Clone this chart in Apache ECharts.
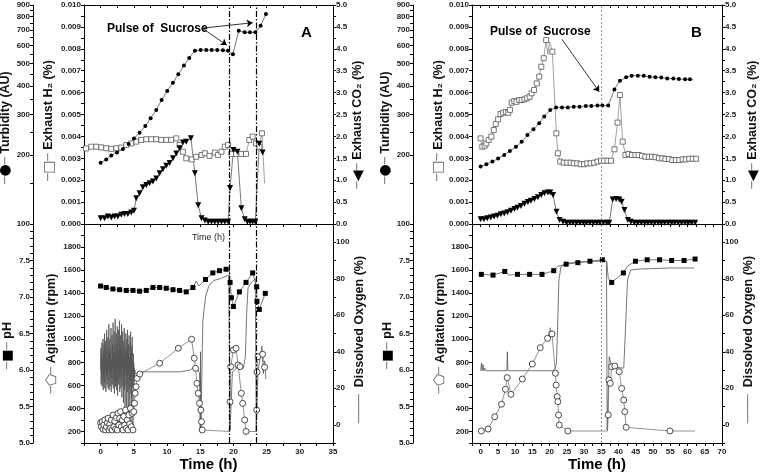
<!DOCTYPE html>
<html><head><meta charset="utf-8">
<script src="https://cdn.jsdelivr.net/npm/echarts@6/dist/echarts.min.js"></script>
<style>html,body{margin:0;padding:0;background:#fff}#c{width:760px;height:474px}</style>
</head><body><div id="c"></div>
<script>
// ---------------- DATA ----------------
// Panel A (time h, value) ; optional third element 0 = line vertex without marker
const turbA = [[0,185],[0.85,191],[1.61,199],[2.46,205],[3.36,212],[4.22,223],[5.02,236],[5.87,250],[6.73,267],[7.53,289],[8.38,314],[9.19,347],[10.04,380],[10.89,413],[11.7,449],[12.55,490],[13.35,529],[14.21,569],[15.06,573],[15.91,573],[16.72,573],[17.57,573],[18.42,571],[19.18,569],[19.93,549],[20.8,695],[21.7,684],[22.5,684],[23.3,684],[24.1,731],[24.9,822]];
const h2A = [[-2.2,0.00345],[-1.4,0.00353],[-0.65,0.00353],[0.1,0.0035],[0.85,0.00346],[1.61,0.00343],[2.36,0.00346],[3.11,0.00349],[3.87,0.00361],[4.62,0.00368],[5.37,0.00376],[6.12,0.00384],[6.88,0.00387],[7.63,0.00387],[8.38,0.00387],[9.14,0.00384],[9.89,0.00384],[10.64,0.00384],[11.4,0.00391],[11.9,0.00361],[12.4,0.0033],[12.9,0.003],[13.7,0.00295],[14.4,0.00307],[15.2,0.00315],[15.7,0.00323],[16.4,0.00311],[17.2,0.00326],[17.7,0.00315],[18.2,0.0033],[18.7,0.00353],[19.2,0.00361],[19.7,0.0032],[20.4,0.0032],[21.2,0.0032],[21.9,0.0032],[22.4,0.00384],[22.9,0.00399],[23.4,0.00368],[23.9,0.00353],[24.3,0.00414],[24.7,0.00186,0]];
const co2A = [[0,0.13],[0.6,0.13],[1.1,0.17],[1.61,0.15],[2.1,0.17],[2.6,0.17],[3.11,0.21],[3.6,0.23],[4.1,0.23],[4.62,0.26],[5.02,0.3],[5.37,0.59],[5.87,0.7],[6.37,0.84],[6.88,0.89],[7.38,0.93],[7.88,0.97],[8.38,1.04],[8.89,1.16],[9.39,1.25],[9.89,1.33],[10.4,1.39],[10.9,1.5],[11.4,1.61],[11.9,1.73],[12.4,1.86],[12.9,1.88],[13.6,1.96],[14.2,1.16],[14.7,0.43],[15.2,0.13],[15.7,0.08],[16.2,0.05],[16.7,0.05],[17.2,0.05],[17.7,0.05],[18.2,0.05],[18.7,0.05],[19.2,0.05],[19.5,0.82],[20.0,1.69],[20.6,1.65],[21.2,0.36],[21.7,0.11],[22.1,0.05],[22.5,0.05],[22.9,0.05],[23.3,0.05],[23.9,1.83],[24.4,1.63]];
const phA = [[0,7.15],[0.85,7.13],[1.86,7.11],[2.86,7.1],[3.87,7.09],[4.87,7.09],[5.87,7.08],[6.88,7.09],[7.88,7.13],[8.89,7.13],[9.89,7.12],[10.9,7.1],[11.9,7.09],[12.9,7.07],[13.9,7.13],[14.4,7.22,0],[14.8,7.15,0],[15.8,7.24],[16.9,7.33],[17.9,7.36],[18.9,7.38],[19.4,7.38,0],[19.5,7.2],[19.7,6.99],[20.0,6.87],[20.9,7.07],[21.9,7.2],[22.9,7.33],[23.5,7.14],[23.55,6.94],[23.9,6.83],[24.8,7.05]];
const agitA = [[0,276],[0.125,241],[0.25,285],[0.375,219],[0.5,256],[0.625,300],[0.75,213],[0.875,241],[1,276],[1.125,314],[1.25,213],[1.375,265],[1.5,230],[1.625,300],[1.75,213],[1.875,343],[2,241],[2.125,290],[2.25,222],[2.375,320],[2.5,213],[2.625,358],[2.75,256],[2.875,314],[3,372],[3.125,241],[3.25,300],[3.375,213],[3.5,330],[3.625,256],[3.75,386],[3.875,228],[4,300],[4.125,213],[4.25,343],[4.375,265],[4.5,400],[4.625,241],[4.75,358],[4.875,213],[5,372],[5.1,444],[5.2,531],[5.35,588],[5.5,661],[5.9,699],[8.9,792],[11.7,922],[13.7,1000],[14.0,990,0],[14.1,835],[14.3,748],[14.5,618],[14.7,531],[14.9,444],[15.1,386],[15.2,285],[15.3,213],[19.4,200,0],[19.5,458],[19.6,762],[20.0,907],[20.4,922],[20.7,777],[21.0,762],[21.2,531],[21.4,444],[21.7,300],[21.9,200],[23.4,200,0],[23.5,386],[23.55,715],[23.7,849],[24.4,870],[24.7,757]];
const doA = [[0,30],[0.04,42],[0.08,22],[0.12,39],[0.16,25],[0.2,45],[0.24,21],[0.28,36],[0.32,28],[0.36,47],[0.4,19],[0.44,40],[0.48,26],[0.52,44],[0.56,23],[0.6,50],[0.64,20],[0.68,38],[0.72,29],[0.76,46],[0.8,18],[0.84,41],[0.88,27],[0.92,52],[0.96,22],[1,37],[1.04,25],[1.08,48],[1.12,20],[1.16,43],[1.2,30],[1.24,55],[1.28,19],[1.32,39],[1.36,24],[1.4,47],[1.44,21],[1.48,42],[1.52,28],[1.56,53],[1.6,18],[1.64,36],[1.68,26],[1.72,49],[1.76,22],[1.8,44],[1.84,31],[1.88,56],[1.92,20],[1.96,40],[2,25],[2.04,51],[2.08,17],[2.12,43],[2.16,29],[2.2,58],[2.24,21],[2.28,38],[2.32,27],[2.36,50],[2.4,19],[2.44,45],[2.48,24],[2.52,54],[2.56,16],[2.6,41],[2.64,30],[2.68,52],[2.72,22],[2.76,39],[2.8,26],[2.84,57],[2.88,18],[2.92,44],[2.96,28],[3,49],[3.04,20],[3.08,42],[3.12,25],[3.16,55],[3.2,15],[3.24,40],[3.28,31],[3.32,51],[3.36,21],[3.4,37],[3.44,12],[3.48,46],[3.52,27],[3.56,53],[3.6,19],[3.64,43],[3.68,8],[3.72,38],[3.76,29],[3.8,50],[3.84,22],[3.88,41],[3.92,10],[3.96,47],[4,26],[4.04,52],[4.08,18],[4.12,39],[4.16,6],[4.2,44],[4.24,28],[4.28,49],[4.32,20],[4.36,37],[4.4,9],[4.44,45],[4.48,24],[4.52,51],[4.56,17],[4.6,40],[4.64,5],[4.68,43],[4.72,27],[4.76,48],[4.8,21],[4.84,36],[4.88,7],[4.92,39],[4.96,25],[5,34],[5.04,20],[5.08,31],[5.12,26],[5.16,30],[5.2,28],[5.4,28],[6,29],[8,29],[10,29],[12,29],[13.5,30],[14.2,32],[14.6,31],[14.9,28],[15.0,-3],[15.05,40],[15.1,-3],[15.2,-3],[15.4,57],[15.8,70],[16.3,76],[17,79],[18,80],[19.3,82],[19.45,82],[19.5,-3],[19.7,-3],[19.85,29],[20.5,31],[21.5,31],[21.8,37],[22.0,61],[22.2,75],[22.7,78],[23.3,80],[23.4,80],[23.45,-3],[23.6,-3],[23.7,29],[24.0,30],[24.3,43],[24.5,28],[24.7,35],[24.9,25]];

// Panel B
const turbB = [[0,178],[1.66,182],[3.42,187],[5.08,193],[6.84,200],[8.49,208],[10.25,217],[11.9,228],[13.57,244],[15.33,259],[16.99,275],[18.45,294],[20.2,314],[21.9,322],[23.6,322],[25.3,322],[27,324],[28.7,324],[30.5,327],[32.1,327],[33.9,328],[35.3,328],[37,328],[38.8,386],[40.4,421],[42.2,436],[43.8,443],[45.6,443],[47.3,442],[49,438],[50.7,436],[52.4,435],[54.1,431],[55.9,430],[57.5,428],[59.3,427],[60.7,427],[61.7,424,0]];
const h2B = [[0,0.00391],[0.49,0.00353],[1.17,0.00358],[1.66,0.00368],[2.34,0.00384],[3.12,0.00399],[3.81,0.00429],[4.4,0.00457],[5.08,0.00478],[5.76,0.00502],[6.54,0.00508],[7.32,0.00511],[8.0,0.00508],[8.5,0.00521],[9.0,0.00554],[9.76,0.00562],[10.4,0.00558],[11.2,0.00566],[11.9,0.00566],[12.7,0.00569],[13.4,0.00574],[14.2,0.00581],[14.8,0.00597],[15.5,0.00612],[16.3,0.00642],[17.0,0.00673],[17.6,0.00718],[18.3,0.00757],[19.0,0.0084],[19.5,0.00775,0],[20.0,0.00832,0],[20.8,0.00787],[21.96,0.00414],[22.4,0.00323],[23.1,0.00285],[24.1,0.0028],[25.1,0.0028],[26.1,0.0028],[27,0.00277],[28,0.00277],[29,0.00273],[30,0.00273],[30.9,0.00277],[31.9,0.00277],[32.9,0.0028],[33.9,0.00285],[34.9,0.00289],[35.8,0.00289],[36.8,0.00289],[37.8,0.00289],[38.8,0.00341],[39.7,0.00463],[40.4,0.00589],[41.2,0.00376],[42,0.00315],[42.9,0.0032],[43.9,0.00315],[44.9,0.00315],[45.8,0.00315],[46.8,0.00311],[47.8,0.00307],[48.8,0.00307],[49.7,0.00307],[50.7,0.00305],[51.7,0.003],[52.7,0.003],[53.6,0.00297],[54.6,0.00297],[55.6,0.00292],[56.6,0.00292],[57.6,0.00292],[58.6,0.00295],[59.5,0.00295],[60.5,0.00298],[61.5,0.00298],[62.5,0.00298]];
const co2B = [[0,0.11],[0.98,0.11],[1.95,0.13],[2.93,0.15],[3.9,0.17],[4.88,0.19],[5.86,0.22],[6.83,0.24],[7.8,0.27],[8.8,0.3],[9.8,0.34],[10.7,0.37],[11.7,0.41],[12.7,0.46],[13.7,0.5],[14.6,0.53],[15.6,0.57],[16.6,0.61],[17.6,0.66],[18.5,0.7],[19.5,0.72],[20.2,0.72],[21,0.66],[22,0.28],[22.9,0.09],[23.9,0.05],[24.9,0.03],[25.9,0.03],[26.8,0.03],[27.8,0.03],[28.8,0.03],[29.8,0.03],[30.7,0.03],[31.7,0.03],[32.7,0.03],[33.7,0.03],[34.6,0.03],[35.6,0.03],[36.6,0.03],[37.3,0.03],[38.3,0.56],[39.3,0.57],[40.2,0.56],[40.9,0.51],[41.7,0.32],[42.7,0.09],[43.6,0.05],[44.6,0.03],[45.6,0.03],[46.6,0.03],[47.6,0.03],[48.5,0.03],[49.5,0.03],[50.5,0.03],[51.5,0.03],[52.4,0.03],[53.4,0.03],[54.4,0.03],[55.4,0.03],[56.3,0.03],[57.3,0.03],[58.3,0.03],[59.3,0.03],[60.2,0.03],[61.2,0.03],[62.2,0.03]];
const phB = [[0.2,7.31],[3.6,7.3],[7.0,7.35],[8.2,7.3,0],[10.7,7.31],[14.2,7.31],[17.8,7.31],[21.2,7.36],[22.3,7.42,0],[24.8,7.45],[28.2,7.47],[31.7,7.49],[35.3,7.51],[36.6,7.48,0],[37.0,7.26,0],[38.0,7.2],[41.4,7.33],[42.5,7.42,0],[44.9,7.49],[48.3,7.51],[51.9,7.51],[55.4,7.5],[59.0,7.5],[62.2,7.52]];
const agitB = [[0.2,204],[2.15,221],[4.1,328],[6.05,436],[7.2,566],[7.7,667],[8.8,522],[12.1,655],[15.0,785],[17.3,927],[19.4,1008],[20.2,1100,0],[20.7,1046],[21.7,705],[21.9,603],[22.2,502],[22.4,459],[22.6,343],[22.8,256],[25.3,204],[36.8,204,0],[37.0,343],[37.2,647],[37.6,618],[38.0,762],[38.9,768],[40.2,719],[40.9,574],[41.5,473],[41.8,372],[42.2,236],[54.9,204],[62.2,204,0]];
const doB = [[0,29.6],[0.25,33.7],[0.45,29.6],[0.7,33],[0.9,29.6],[1.2,31],[1.5,29.6],[7.6,29.6],[7.75,40],[7.9,29.6],[21,29.6],[21.6,30.9],[22,33.7],[22.3,51.9],[22.7,79.3],[23.3,86.6],[25,88.4],[28,89.2],[33,89.5],[36.5,89.7],[36.7,-3],[37.1,-3],[37.3,37.3],[38,31.8],[41.5,31],[42,51.9],[42.6,79.3],[43.5,84.8],[46,85.3],[55,85.9],[62,85.9]];

// pulse times (h)
const pulsesA = [19.45, 23.4];
const pulsesB = [35.1];
const pulseText = 'Pulse of  Sucrose';

// tick labels
const xLabA = [0,5,10,15,20,25,30,35];
const xLabB = [0,5,10,15,20,25,30,35,40,45,50,55,60,65,70];
const h2Lab = [0,0.001,0.002,0.003,0.004,0.005,0.006,0.007,0.008,0.009,0.010];
const co2Lab = [0,0.5,1,1.5,2,2.5,3,3.5,4,4.5,5];
const turbLab = [100,200,300,400,500,600,700,800,900];
const agitLab = [200,400,600,800,1000,1200,1400,1600,1800];
const phLab = [5,5.5,6,6.5,7,7.5];
const doLab = [0,20,40,60,80,100];

// ---------------- CHART ----------------
const FONT = '"Liberation Sans", Arial, "DejaVu Sans", sans-serif';
function range(a,b,s){const r=[];for(let v=a;v<=b+s/1e6;v+=s)r.push(+v.toFixed(6));return r;}
const L10 = Math.log10;

function nameStyle(padEnd){
  return {fontSize:12.5,fontWeight:'bold',fontFamily:FONT,color:'#111',padding:[0,padEnd,0,0],
    rich:{ln:{fontSize:12,color:'#777',fontFamily:'DejaVu Sans'},
          sy:{fontSize:14,color:'#000',fontFamily:'DejaVu Sans'},
          sq:{fontSize:14,color:'#666',fontFamily:'DejaVu Sans'},
          bx:{fontSize:13,color:'#000',fontFamily:'DejaVu Sans'}}};
}

function yAx(grid,pos,offset,min,max,labels,ticks,fmt,name,gap,pad){
  return {type:'value',gridIndex:grid,position:pos,offset:offset,min:min,max:max,
    axisLine:{show:true,onZero:false,lineStyle:{color:'#000',width:1}},
    axisTick:{show:true,inside:false,length:3,customValues:ticks,lineStyle:{color:'#000',width:1}},
    axisLabel:{show:true,customValues:labels,formatter:fmt,fontSize:8,fontWeight:'bold',fontFamily:FONT,color:'#222',margin:3},
    splitLine:{show:false},
    name:name,nameLocation:'middle',nameRotate:90,nameGap:gap,nameTextStyle:nameStyle(pad)};
}
function xAx(grid,pos,min,max,labels,ticks,showLab,name,gap,nstyle,inside){
  return {type:'value',gridIndex:grid,position:pos,min:min,max:max,
    axisLine:{show:true,onZero:false,lineStyle:{color:'#000',width:1}},
    axisTick:{show:true,inside:!!inside,length:3,customValues:ticks,lineStyle:{color:'#000',width:1}},
    axisLabel:{show:showLab,customValues:labels,fontSize:8,fontWeight:'bold',fontFamily:FONT,color:'#222',margin:5},
    splitLine:{show:false},
    name:name||'',nameLocation:'middle',nameGap:gap||0,nameTextStyle:nstyle||{}};
}
const xTA = range(-2.5,35,2.5), xTB = range(-2.5,70,2.5);
const smallTime = {fontSize:9,fontFamily:FONT,color:'#222'};
const bigTime = {fontSize:15,fontWeight:'bold',fontFamily:FONT,color:'#000'};

const f3 = v=>(+v).toFixed(3), f1 = v=>(+v).toFixed(1), f0 = v=>Math.round(v);
const fT = v=>Math.round(Math.pow(10,v));

const nTurb = '{ln|─}{sy|●}{ln|─} Turbidity (AU)';
const nH2 = '{ln|─}{sq|□}{ln|─} Exhaust H₂ (%)';
const nCO2 = '{ln|─}{sy|◀}{ln|─} Exhaust CO₂ (%)';
const nPH = '{ln|─}{bx|■}{ln|─} pH';
const nAg = '{ln|─}{sq|⬠}{ln|─} Agitation (rpm)';
const nDO = '{ln|────}  Dissolved Oxygen (%)';

const turbTicks = range(100,900,50).map(L10);
function yAxesFor(gTop,gBot,turbOff,gaps){
  return [
    yAx(gTop,'left',0,0,0.010,h2Lab,range(0,0.01,0.0005),f3,nH2,gaps[0],12),
    yAx(gTop,'left',turbOff,2,L10(900),turbLab.map(L10),turbTicks,fT,nTurb,gaps[1],26),
    yAx(gTop,'right',0,0,5,co2Lab,range(0,5,0.25),f1,nCO2,gaps[2],20),
    yAx(gBot,'left',0,100,2000,agitLab,range(100,2000,100),f0,nAg,gaps[3],0),
    yAx(gBot,'left',turbOff,5,8,phLab,range(5,8,0.1),v=>(+v).toFixed(1),nPH,gaps[4],24),
    yAx(gBot,'right',0,-10,110,doLab,range(-10,110,10),f0,nDO,gaps[5],12)
  ];
}
const yAxes = yAxesFor(0,1,51,[28,19,17,25,19,18]).concat(yAxesFor(2,3,59,[26,19,24,23,19,18]));

const xAxes = [
  xAx(0,'bottom',-2.5,35,xLabA,xTA,false,'Time (h)',9,smallTime,false),
  xAx(0,'top',-2.5,35,xLabA,xTA,false,'',0,null,true),
  xAx(1,'bottom',-2.5,35,xLabA,xTA,true,'Time (h)',14,bigTime,false),
  xAx(2,'bottom',-2.5,70,xLabB,xTB,false,'',0,null,false),
  xAx(2,'top',-2.5,70,xLabB,xTB,false,'',0,null,true),
  xAx(3,'bottom',-2.5,70,xLabB,xTB,true,'Time (h)',14,bigTime,false)
];

const sz = n => (v => (v[2]===0 ? 0 : n));
function mk(data,xi,yi,kind,extra){
  const st = {
    turb:{symbol:'circle',size:4,item:{color:'#000'},line:'#555'},
    h2:{symbol:'rect',size:5,item:{color:'#fff',borderColor:'#555',borderWidth:0.8},line:'#888'},
    co2:{symbol:'triangle',size:6,rot:180,item:{color:'#000'},line:'#555'},
    ph:{symbol:'rect',size:5,item:{color:'#000'},line:'#555'},
    ag:{symbol:'circle',size:6,item:{color:'#fff',borderColor:'#222',borderWidth:0.8},line:'#777'},
    dO:{symbol:'none',size:0,item:{color:'#555'},line:'#555'}
  }[kind];
  const s = {type:'line',xAxisIndex:xi,yAxisIndex:yi,data:data,
    symbol:st.symbol,symbolSize:sz(st.size),symbolRotate:st.rot||0,showAllSymbol:true,
    itemStyle:st.item,lineStyle:{color:st.line,width:0.8},
    emphasis:{disabled:true},animation:false,silent:true,z:kind==='dO'?2:3};
  return Object.assign(s,extra||{});
}
const vDashA = {color:'#000',width:1.2,type:[6,2,1.5,2]};
const vDotB = {color:'#999',width:1.2,type:[2,2]};
function vLines(ts,style){
  return {markLine:{silent:true,animation:false,symbol:'none',label:{show:false},
    lineStyle:style,data:ts.map(t=>({xAxis:t}))}};
}
function arrows(pairs){
  return {markLine:{silent:true,animation:false,symbol:['none','arrow'],symbolSize:6,label:{show:false},
    lineStyle:{color:'#000',width:0.8,type:'solid'},
    data:pairs.map(p=>[{coord:p[0]},{coord:p[1]}])}};
}
const tl = d => d.map(p=>p.length>2?[p[0],L10(p[1]),p[2]]:[p[0],L10(p[1])]);

const series = [
  mk(h2A,0,0,'h2',arrows([[[15.3,0.00894],[19.0,0.00817]],[[15.3,0.00894],[22.9,0.00919]]])),
  mk(tl(turbA),0,1,'turb'),
  mk(co2A,0,2,'co2',vLines(pulsesA,vDashA)),
  mk(doA,2,5,'dO'),
  mk(agitA,2,3,'ag'),
  mk(phA,2,4,'ph',vLines(pulsesA,vDashA)),
  mk(h2B,3,6,'h2',arrows([[[23.6,0.00843],[34.4,0.00604]]])),
  mk(tl(turbB),3,7,'turb'),
  mk(co2B,3,8,'co2',vLines(pulsesB,vDotB)),
  mk(doB,5,11,'dO'),
  mk(agitB,5,9,'ag'),
  mk(phB,5,10,'ph',vLines(pulsesB,vDotB))
];

const option = {
  backgroundColor:'#fff',animation:false,
  grid:[
    {left:84,top:5,width:249,height:219,outerBoundsMode:'none'},
    {left:84,top:224,width:249,height:219,outerBoundsMode:'none'},
    {left:472,top:5,width:250,height:219,outerBoundsMode:'none'},
    {left:472,top:224,width:250,height:219,outerBoundsMode:'none'}
  ],
  xAxis:xAxes,yAxis:yAxes,series:series,
  graphic:[
    {type:'text',left:107,top:23,style:{text:pulseText,fontSize:12,fontWeight:'bold',fontFamily:FONT,fill:'#000'}},
    {type:'text',left:490,top:26,style:{text:pulseText,fontSize:12,fontWeight:'bold',fontFamily:FONT,fill:'#000'}},
    {type:'text',left:301,top:25,style:{text:'A',fontSize:15,fontWeight:'bold',fontFamily:FONT,fill:'#000'}},
    {type:'text',left:691,top:25,style:{text:'B',fontSize:15,fontWeight:'bold',fontFamily:FONT,fill:'#000'}}
  ]
};
const chart = echarts.init(document.getElementById('c'),null,{renderer:'canvas'});
chart.setOption(option);
</script></body></html>
